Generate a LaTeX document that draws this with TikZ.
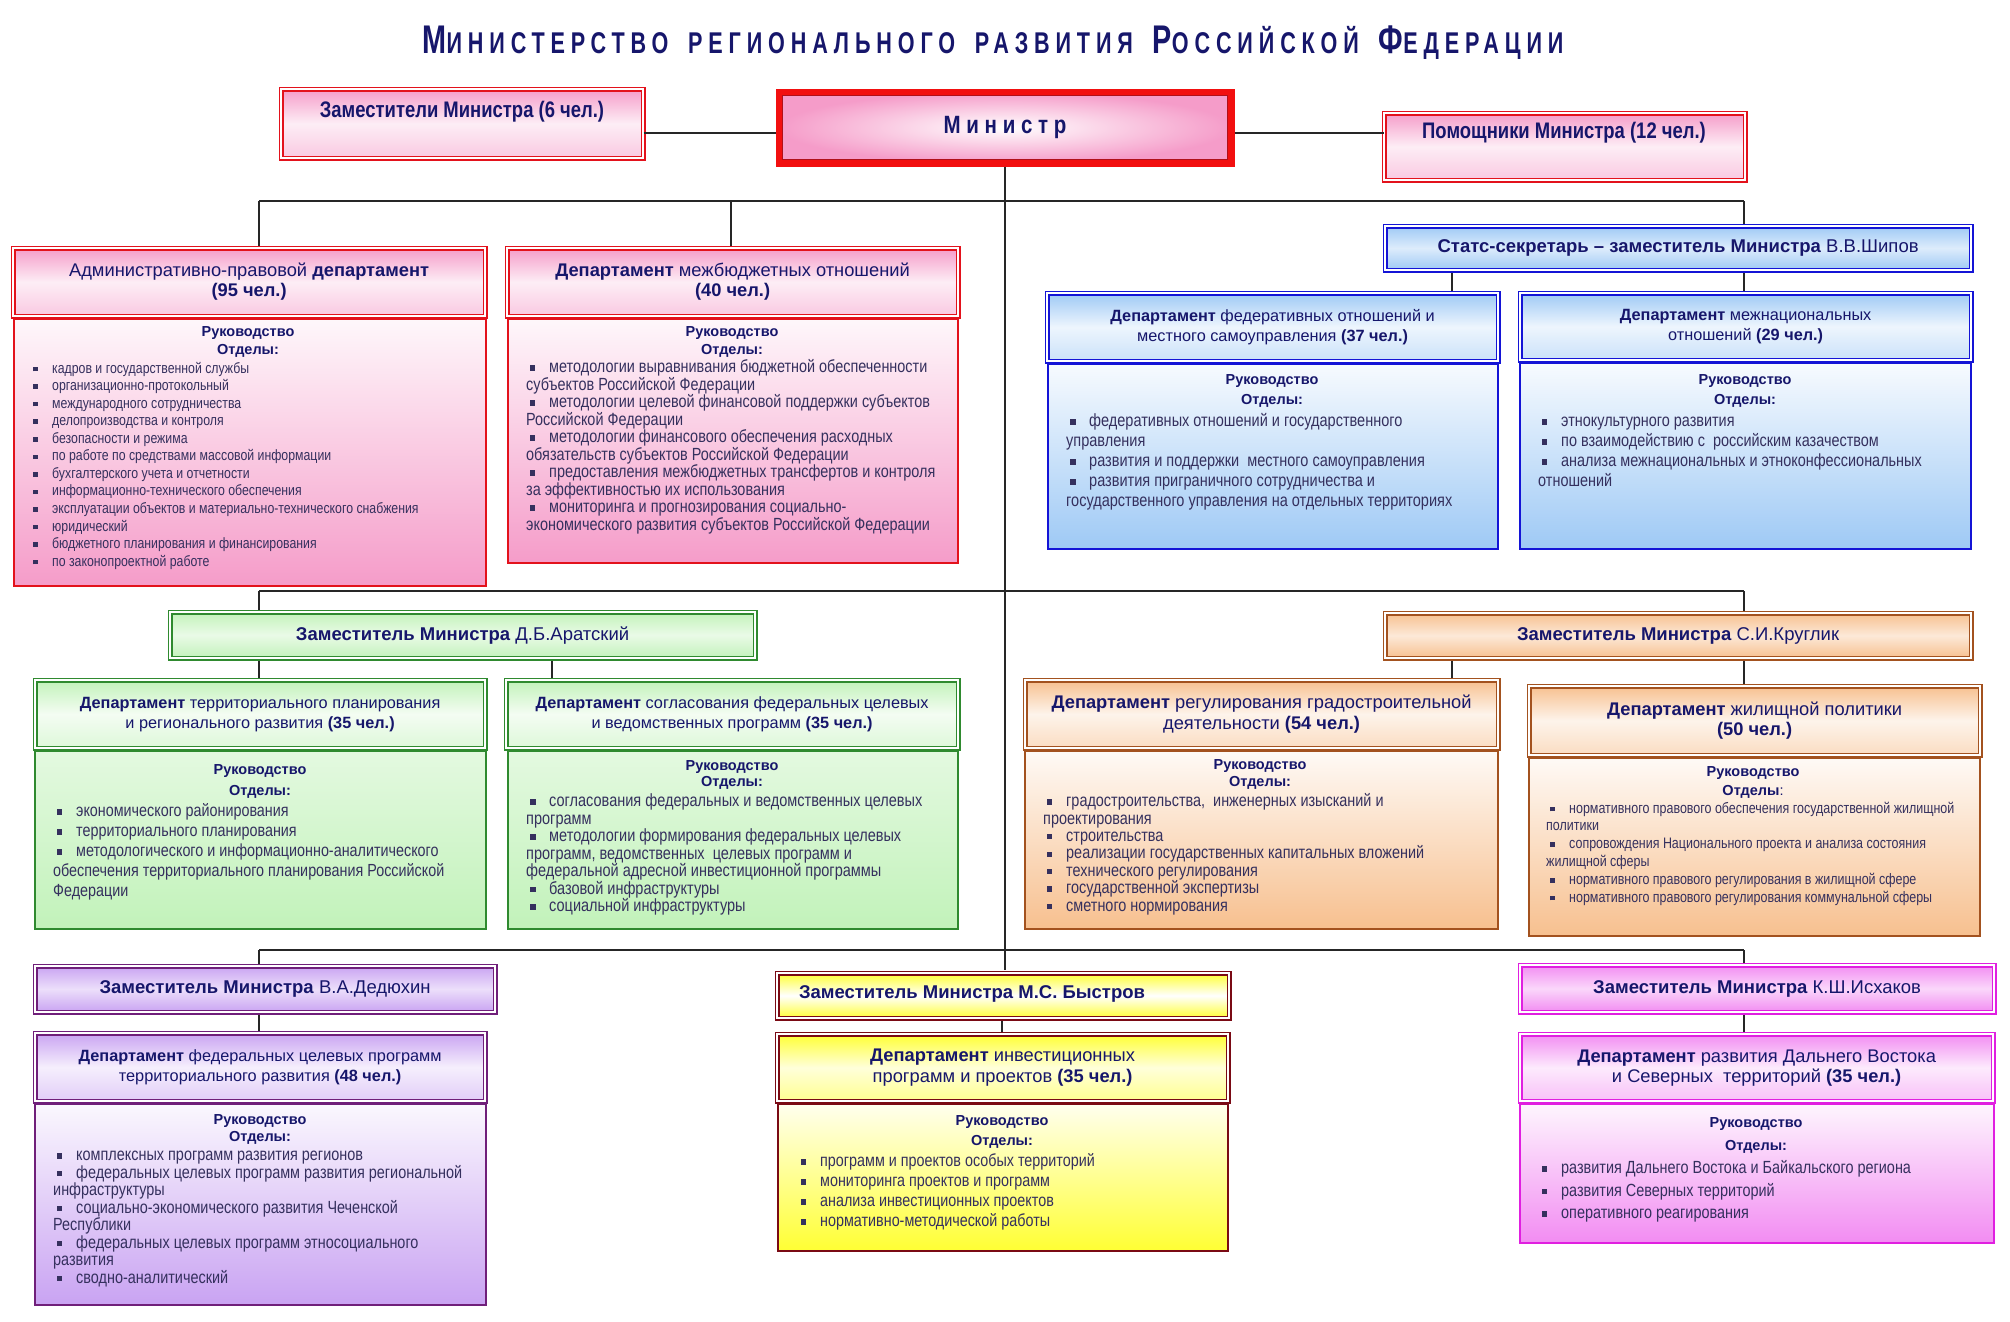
\documentclass[tikz,border=0pt]{standalone}
\usepackage{fontspec}
\setmainfont{Liberation Sans}
\newfontfamily\nr{Liberation Sans}[FakeStretch=0.82]
\newfontfamily\ttl{Liberation Sans}[FakeStretch=0.72,LetterSpace=19.5]
\definecolor{txnavy}{HTML}{16166B}
\definecolor{btxt}{HTML}{35305E}
\definecolor{pinkC}{HTML}{F59CC9}
\definecolor{redB}{HTML}{E3121C}
\definecolor{blueC}{HTML}{9EC9F5}
\definecolor{blueB}{HTML}{1414D6}
\definecolor{greenC}{HTML}{C2F2BA}
\definecolor{greenB}{HTML}{2F8A2F}
\definecolor{orC}{HTML}{F7C08F}
\definecolor{orB}{HTML}{A3521F}
\definecolor{purC}{HTML}{C9A3F2}
\definecolor{purB}{HTML}{701F7A}
\definecolor{yelC}{HTML}{FFFF33}
\definecolor{yelB}{HTML}{7A0A14}
\definecolor{magC}{HTML}{F28CF2}
\definecolor{magB}{HTML}{E01FE0}
\definecolor{minR}{HTML}{F20F0F}
\definecolor{minD}{HTML}{B0101A}
\newcommand\bl{\makebox[23pt][l]{\hspace{4pt}\rule[0.12em]{0.3em}{0.3em}}}
\newcommand\st{\rule{0pt}{0.8em}}
\newcommand\fz[2]{\fontsize{#1}{#2}\selectfont}
\tikzset{
 conn/.style={line width=1.8pt, draw=black!85},
 hdr/.style 2 args={draw=#2, line width=1.2pt, double=white, double distance=2.4pt, top color=#1, bottom color=#1!55!white, middle color=#1!18!white, inner sep=0pt, align=center, text=txnavy, anchor=north west},
 dep/.style 2 args={draw=#2, line width=1.2pt, double=white, double distance=2.4pt, top color=#1, bottom color=#1, middle color=#1!35!white, inner sep=0pt, align=center, text=txnavy, anchor=north west, font=\fz{18.5}{20}},
 bodybox/.style 2 args={draw=#2, line width=1.6pt, top color=#1!8!white, bottom color=#1, inner sep=0pt, anchor=north west},
 lst/.style={inner sep=0pt, anchor=north west, align=left, text=btxt},
 hd/.style={inner sep=0pt, align=center, text=txnavy},
 lbl/.style={inner sep=0pt, align=center, text=txnavy},
}
\begin{document}
\begin{tikzpicture}[x=1pt,y=-1pt]
\useasboundingbox[fill=white] (0,0) rectangle (2010,1322);

% ---------- top row ----------
\node[draw=minR, line width=7pt, inner color=white, outer color=pinkC, minimum width=452pt, minimum height=71pt, anchor=north west, inner sep=0pt, text=txnavy, font=\nr\bfseries\fz{25}{25}] (min) at (775.5,88.5) {М и н и с т р};
\draw[minD, line width=1.8pt] ([xshift=7pt,yshift=-7pt]min.north west) rectangle ([xshift=-7pt,yshift=7pt]min.south east);
\node[hdr={pinkC}{redB}, minimum width=362pt, minimum height=69pt] (zam) at (280.5,88.5) {};
\node[hdr={pinkC}{redB}, minimum width=361pt, minimum height=67pt] (pom) at (1383.5,112.5) {};
\node[lbl, font=\nr\bfseries\fz{22.5}{24}] (zamT) at (462,112) {Заместители Министра (6 чел.)};
\node[lbl, font=\nr\bfseries\fz{22.5}{24}] (pomT) at (1564,133) {Помощники Министра (12 чел.)};

% ---------- body boxes ----------
\node[bodybox={pinkC}{redB}, minimum width=472pt, minimum height=267pt] (admB) at (13,318) {};
\node[bodybox={pinkC}{redB}, minimum width=450pt, minimum height=244pt] (mbB) at (507,318) {};
\node[bodybox={blueC}{blueB}, minimum width=450pt, minimum height=185pt] (fedB) at (1047,363) {};
\node[bodybox={blueC}{blueB}, minimum width=451pt, minimum height=186pt] (mnB) at (1519,362) {};
\node[draw=greenB, line width=1.6pt, top color=greenC!45!white, bottom color=greenC, inner sep=0pt, anchor=north west, minimum width=451pt, minimum height=178pt] (terB) at (34,750) {};
\node[draw=greenB, line width=1.6pt, top color=greenC!45!white, bottom color=greenC, inner sep=0pt, anchor=north west, minimum width=450pt, minimum height=178pt] (sogB) at (507,750) {};
\node[bodybox={orC}{orB}, minimum width=473pt, minimum height=178pt] (grB) at (1024,750) {};
\node[bodybox={orC}{orB}, minimum width=451pt, minimum height=178pt] (zhB) at (1528,757) {};
\node[bodybox={purC}{purB}, minimum width=451pt, minimum height=201pt] (fcpB) at (34,1103) {};
\node[bodybox={yelC}{yelB}, minimum width=450pt, minimum height=147pt] (invB) at (777,1103) {};
\node[bodybox={magC}{magB}, minimum width=474pt, minimum height=139pt] (feB) at (1519,1103) {};

% ---------- connectors ----------
\coordinate (yT) at (0,133);
\coordinate (xA) at (259,0);
\coordinate (xB) at (731,0);
\coordinate (xC) at (1744,0);
\coordinate (xD) at (1452,0);
\coordinate (xE) at (552,0);
\coordinate (b1a) at (259,201);
\coordinate (b1c) at (1744,201);
\coordinate (b2a) at (259,591);
\coordinate (b2c) at (1744,591);
\coordinate (b3a) at (259,950);
\coordinate (b3c) at (1744,950);

\draw[conn] (zam.east |- yT) -- (min.west |- yT);
\draw[conn] (min.east |- yT) -- (pom.west |- yT);
\draw[conn] (min.south) -- (min.south |- 0,970);
\draw[conn] (b1a) -- (b1c);
\draw[conn] (b1a) -- (xA |- 0,247);
\draw[conn] (xB |- b1a) -- (xB |- 0,247);
\draw[conn] (b1c) -- (xC |- 0,225);
\draw[conn] (xD |- 0,272) -- (xD |- 0,292);
\draw[conn] (xC |- 0,272) -- (xC |- 0,292);
\draw[conn] (b2a) -- (b2c);
\draw[conn] (b2a) -- (xA |- 0,611);
\draw[conn] (b2c) -- (xC |- 0,612);
\draw[conn] (xA |- 0,658) -- (xA |- 0,679);
\draw[conn] (xE |- 0,658) -- (xE |- 0,679);
\draw[conn] (xD |- 0,658) -- (xD |- 0,679);
\draw[conn] (xC |- 0,658) -- (xC |- 0,685);
\draw[conn] (b3a) -- (b3c);
\draw[conn] (b3a) -- (xA |- 0,965);
\draw[conn] (b3c) -- (xC |- 0,964);
\draw[conn] (xA |- 0,1012) -- (xA |- 0,1032);
\draw[conn] (1002,1018) -- (1002,1033);
\draw[conn] (xC |- 0,1012) -- (xC |- 0,1033);

% ---------- headers and deputies ----------
\node[hdr={pinkC}{redB}, minimum width=472pt, minimum height=68pt, font=\fz{18.3}{20}] (admH) at (12.5,247.5) {Административно-правовой \textbf{департамент}\\\textbf{(95 чел.)}};
\node[hdr={pinkC}{redB}, minimum width=451pt, minimum height=68pt, font=\fz{18.3}{20}] (mbH) at (506.5,247.5) {\textbf{Департамент} межбюджетных отношений\\\textbf{(40 чел.)}};
\node[dep={blueC}{blueB}, minimum width=586pt, minimum height=44pt] (stats) at (1384.5,225.5) {\textbf{Статс-секретарь – заместитель Министра} В.В.Шипов};
\node[hdr={blueC}{blueB}, minimum width=451pt, minimum height=68pt, font=\fz{16.3}{20}] (fedH) at (1046.5,292.5) {\textbf{Департамент} федеративных отношений и\\местного самоуправления \textbf{(37 чел.)}};
\node[hdr={blueC}{blueB}, minimum width=451pt, minimum height=67pt, font=\fz{16.3}{20}] (mnH) at (1519.5,292.5) {\textbf{Департамент} межнациональных\\отношений \textbf{(29 чел.)}};
\node[dep={greenC}{greenB}, minimum width=585pt, minimum height=46pt] (arat) at (169.5,611.5) {\textbf{Заместитель Министра} Д.Б.Аратский};
\node[hdr={greenC}{greenB}, minimum width=450pt, minimum height=68pt, font=\fz{16.3}{20}] (terH) at (34.5,679.5) {\textbf{Департамент} территориального планирования\\и регионального развития \textbf{(35 чел.)}};
\node[hdr={greenC}{greenB}, minimum width=452pt, minimum height=68pt, font=\fz{16.3}{20}] (sogH) at (505.5,679.5) {\textbf{Департамент} согласования федеральных целевых\\и ведомственных программ \textbf{(35 чел.)}};
\node[dep={orC}{orB}, minimum width=586pt, minimum height=45pt] (krug) at (1384.5,612.5) {\textbf{Заместитель Министра} С.И.Круглик};
\node[hdr={orC}{orB}, minimum width=473pt, minimum height=68pt, font=\fz{18.3}{21}] (grH) at (1024.5,679.5) {\textbf{Департамент} регулирования градостроительной\\деятельности \textbf{(54 чел.)}};
\node[hdr={orC}{orB}, minimum width=451pt, minimum height=69pt, font=\fz{18.3}{20}] (zhH) at (1528.5,685.5) {\textbf{Департамент} жилищной политики\\\textbf{(50 чел.)}};
\node[dep={purC}{purB}, minimum width=460pt, minimum height=46pt] (ded) at (34.5,965.5) {\textbf{Заместитель Министра} В.А.Дедюхин};
\node[hdr={purC}{purB}, minimum width=450pt, minimum height=68pt, font=\fz{16.3}{20}] (fcpH) at (34.5,1032.5) {\textbf{Департамент} федеральных целевых программ\\территориального развития \textbf{(48 чел.)}};
\node[dep={yelC}{yelB}, minimum width=452pt, minimum height=45pt, top color=yelC, bottom color=yelC, middle color=white] (bys) at (776.5,972.5) {};
\node[lbl, font=\bfseries\fz{18.5}{20}] (bysT) at (972,994) {Заместитель Министра М.С. Быстров};
\node[hdr={yelC}{yelB}, minimum width=451pt, minimum height=67pt, font=\fz{18.3}{21}] (invH) at (776.5,1033.5) {\textbf{Департамент} инвестиционных\\программ и проектов \textbf{(35 чел.)}};
\node[dep={magC}{magB}, minimum width=474pt, minimum height=47pt] (isk) at (1519.5,964.5) {\textbf{Заместитель Министра} К.Ш.Исхаков};
\node[hdr={magC}{magB}, minimum width=473pt, minimum height=67pt, font=\fz{18.3}{20}] (feH) at (1519.5,1033.5) {\textbf{Департамент} развития Дальнего Востока\\и Северных \ территорий \textbf{(35 чел.)}};

% ---------- headings ----------
\node[hd, font=\bfseries\fz{14.5}{18}] (admR) at (248,342) {Руководство\\Отделы:};
\node[hd, font=\bfseries\fz{14.5}{18}] (mbR) at (732,342) {Руководство\\Отделы:};
\node[hd, font=\bfseries\fz{14.5}{20}] (fedR) at (1272,391) {Руководство\\Отделы:};
\node[hd, font=\bfseries\fz{14.5}{20}] (mnR) at (1745,391) {Руководство\\Отделы:};
\node[hd, font=\bfseries\fz{14.5}{21}] (terR) at (260,781.5) {Руководство\\Отделы:};
\node[hd, font=\bfseries\fz{14.5}{16}] (sogR) at (732,775) {Руководство\\Отделы:};
\node[hd, font=\bfseries\fz{14.5}{17}] (grR) at (1260,774.5) {Руководство\\Отделы:};
\node[hd, font=\bfseries\fz{14.5}{19}] (zhR) at (1753,782.5) {Руководство\\Отделы\mdseries:};
\node[hd, font=\bfseries\fz{14.5}{17}] (fcpR) at (260,1129.5) {Руководство\\Отделы:};
\node[hd, font=\bfseries\fz{14.5}{20}] (invR) at (1002,1132) {Руководство\\Отделы:};
\node[hd, font=\bfseries\fz{14.5}{23}] (feR) at (1756,1135.5) {Руководство\\Отделы:};

% ---------- lists ----------
\node[lst, font=\nr\fz{15}{17.55}] (admL) at (29,360.9) {\st\bl кадров и государственной службы\\\bl организационно-протокольный\\\bl международного сотрудничества\\\bl делопроизводства и контроля\\\bl безопасности и режима\\\bl по работе по средствами массовой информации\\\bl бухгалтерского учета и отчетности\\\bl информационно-технического обеспечения\\\bl эксплуатации объектов и материально-технического снабжения\\\bl юридический\\\bl бюджетного планирования и финансирования\\\bl по законопроектной работе};
\node[lst, font=\nr\fz{17.6}{17.5}] (mbL) at (526,358.5) {\st\bl методологии выравнивания бюджетной обеспеченности\\субъектов Российской Федерации\\\bl методологии целевой финансовой поддержки субъектов\\Российской Федерации\\\bl методологии финансового обеспечения расходных\\обязательств субъектов Российской Федерации\\\bl предоставления межбюджетных трансфертов и контроля\\за эффективностью их использования\\\bl мониторинга и прогнозирования социально-\\экономического развития субъектов Российской Федерации};
\node[lst, font=\nr\fz{17.7}{20}] (fedL) at (1066,412.4) {\st\bl федеративных отношений и государственного\\управления\\\bl развития и поддержки \ местного самоуправления\\\bl развития приграничного сотрудничества и\\государственного управления на отдельных территориях};
\node[lst, font=\nr\fz{17.6}{20}] (mnL) at (1538,412.5) {\st\bl этнокультурного развития\\\bl по взаимодействию с \ российским казачеством\\\bl анализа межнациональных и этноконфессиональных\\отношений};
\node[lst, font=\nr\fz{17.5}{20}] (terL) at (53,802.5) {\st\bl экономического районирования\\\bl территориального планирования\\\bl методологического и информационно-аналитического\\обеспечения территориального планирования Российской\\Федерации};
\node[lst, font=\nr\fz{17.7}{17.5}] (sogL) at (526,792.4) {\st\bl согласования федеральных и ведомственных целевых\\программ\\\bl методологии формирования федеральных целевых\\программ, ведомственных \ целевых программ и\\федеральной адресной инвестиционной программы\\\bl базовой инфраструктуры\\\bl социальной инфраструктуры};
\node[lst, font=\nr\fz{17.6}{17.4}] (grL) at (1043,792.5) {\st\bl градостроительства, \ инженерных изысканий и\\проектирования\\\bl строительства\\\bl реализации государственных капитальных вложений\\\bl технического регулирования\\\bl государственной экспертизы\\\bl сметного нормирования};
\node[lst, font=\nr\fz{15.2}{17.8}] (zhL) at (1546,800.8) {\st\bl нормативного правового обеспечения государственной жилищной\\политики\\\bl сопровождения Национального проекта и анализа состояния\\жилищной сферы\\\bl нормативного правового регулирования в жилищной сфере\\\bl нормативного правового регулирования коммунальной сферы};
\node[lst, font=\nr\fz{17.6}{17.5}] (fcpL) at (53,1146.5) {\st\bl комплексных программ развития регионов\\\bl федеральных целевых программ развития региональной\\инфраструктуры\\\bl социально-экономического развития Чеченской\\Республики\\\bl федеральных целевых программ этносоциального\\развития\\\bl сводно-аналитический};
\node[lst, font=\nr\fz{17.5}{20}] (invL) at (797,1152.6) {\st\bl программ и проектов особых территорий\\\bl мониторинга проектов и программ\\\bl анализа инвестиционных проектов\\\bl нормативно-методической работы};
\node[lst, font=\nr\fz{17.6}{22.5}] (feL) at (1538,1159.5) {\st\bl развития Дальнего Востока и Байкальского региона\\\bl развития Северных территорий\\\bl оперативного реагирования};

% ---------- title ----------
\node[inner sep=0pt, text=txnavy] (title) at (993,43) {\ttl\bfseries\fz{30}{30}{\fz{40}{40}М}ИНИСТЕРСТВО\hspace{8pt} РЕГИОНАЛЬНОГО\hspace{8pt} РАЗВИТИЯ\hspace{8pt} {\fz{40}{40}Р}ОССИЙСКОЙ\hspace{8pt} {\fz{40}{40}Ф}ЕДЕРАЦИИ};
\end{tikzpicture}
\end{document}
